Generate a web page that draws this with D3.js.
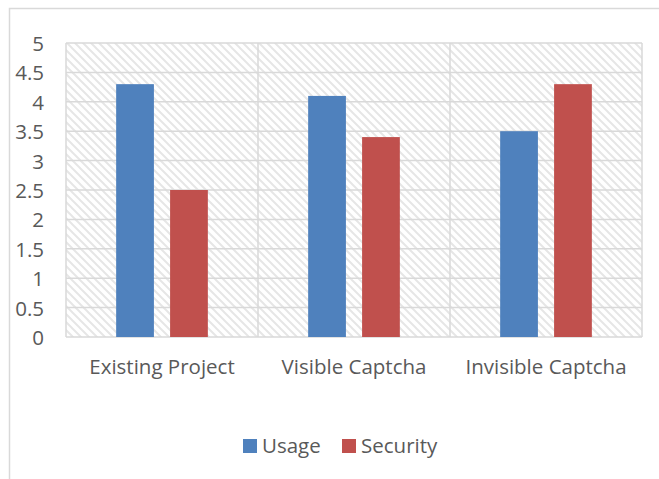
<!DOCTYPE html>
<html>
<head>
<meta charset="utf-8">
<script src="https://cdn.jsdelivr.net/npm/d3@7"></script>
<style>
  body { margin: 0; background: #fff; }
  text { font-family: "Open Sans", Lato, sans-serif; fill: #595959; }
</style>
</head>
<body>
<svg id="chart"></svg>
<script>
var categories = ["Existing Project", "Visible Captcha", "Invisible Captcha"];
var seriesNames = ["Usage", "Security"];
var usage = [4.3, 4.1, 3.5];
var security = [2.5, 3.4, 4.3];
var yTicks = [0, 0.5, 1, 1.5, 2, 2.5, 3, 3.5, 4, 4.5, 5];
var colors = ["#4F81BD", "#C0504D"];

function drawChart(id) {
  var svgWidth = 659, svgHeight = 479;
  var plot = { left: 66, right: 642, top: 43, bottom: 337 };
  var fontSize = 20.5;

  var svg = d3.select(id)
    .attr("width", svgWidth)
    .attr("height", svgHeight);

  // outer frame (right and bottom fall outside the picture)
  svg.append("path")
    .attr("d", `M9.5,${svgHeight} V8.5 H${svgWidth}`)
    .attr("fill", "none")
    .attr("stroke", "#D9D9D9")
    .attr("stroke-width", 1.5);

  // hatch pattern
  var defs = svg.append("defs");
  var pat = defs.append("pattern")
    .attr("id", "hatch")
    .attr("patternUnits", "userSpaceOnUse")
    .attr("width", 8)
    .attr("height", 8);
  pat.append("path")
    .attr("d", "M-2,6 L2,10 M0,0 L8,8 M6,-2 L10,2")
    .attr("stroke", "#E6E6E6")
    .attr("stroke-width", 2);

  var x = d3.scaleBand()
    .domain(categories)
    .range([plot.left, plot.right]);

  var xInner = d3.scaleBand()
    .domain(seriesNames)
    .range([0, x.bandwidth()])
    .paddingInner(0.3)
    .paddingOuter(0.93);

  var y = d3.scaleLinear()
    .domain([0, 5])
    .range([plot.bottom, plot.top]);

  svg.append("rect")
    .attr("x", plot.left)
    .attr("y", plot.top)
    .attr("width", plot.right - plot.left)
    .attr("height", plot.bottom - plot.top)
    .attr("fill", "url(#hatch)");

  // horizontal gridlines
  svg.append("g")
    .selectAll("line")
    .data(yTicks)
    .enter()
    .append("line")
    .attr("x1", plot.left)
    .attr("x2", plot.right)
    .attr("y1", d => y(d))
    .attr("y2", d => y(d))
    .attr("stroke", "#D9D9D9")
    .attr("stroke-width", 1.5);

  // vertical gridlines at category edges
  var edges = categories.map(c => x(c)).concat([plot.right]);
  svg.append("g")
    .selectAll("line")
    .data(edges)
    .enter()
    .append("line")
    .attr("x1", d => d)
    .attr("x2", d => d)
    .attr("y1", plot.top)
    .attr("y2", plot.bottom)
    .attr("stroke", "#D9D9D9")
    .attr("stroke-width", 1.5);

  // y axis labels
  var yAxis = d3.axisLeft(y)
    .tickValues(yTicks)
    .tickSize(0)
    .tickPadding(0)
    .tickFormat(d3.format("~g"));
  var gy = svg.append("g")
    .attr("transform", "translate(44,1)")
    .call(yAxis);
  gy.select(".domain").remove();
  gy.selectAll("text")
    .attr("font-size", fontSize)
    .attr("fill", "#595959")
    .style("font-family", "'Open Sans', sans-serif");

  // x axis labels
  var xAxis = d3.axisBottom(x).tickSize(0).tickPadding(0);
  var gx = svg.append("g")
    .attr("transform", "translate(0,359)")
    .call(xAxis);
  gx.select(".domain").remove();
  gx.selectAll("text")
    .attr("font-size", fontSize)
    .attr("fill", "#595959")
    .style("font-family", "'Open Sans', sans-serif");

  // bars
  var rows = categories.map((c, i) => ({ cat: c, vals: [usage[i], security[i]] }));
  var groups = svg.append("g")
    .selectAll("g")
    .data(rows)
    .enter()
    .append("g")
    .attr("transform", d => `translate(${x(d.cat)},0)`);

  groups.selectAll("rect")
    .data(d => d.vals.map((v, j) => ({ name: seriesNames[j], v: v, j: j })))
    .enter()
    .append("rect")
    .attr("x", d => xInner(d.name))
    .attr("width", xInner.bandwidth())
    .attr("y", d => y(d.v))
    .attr("height", d => y(0) - y(d.v))
    .attr("fill", d => colors[d.j]);

  // legend
  var legend = svg.append("g").attr("transform", "translate(243,439)");
  var items = [{ name: seriesNames[0], x: 0 }, { name: seriesNames[1], x: 99 }];
  items.forEach((it, i) => {
    legend.append("rect")
      .attr("x", it.x)
      .attr("y", 0)
      .attr("width", 14)
      .attr("height", 14)
      .attr("fill", colors[i]);
    legend.append("text")
      .attr("x", it.x + 19)
      .attr("y", 7)
      .attr("dy", "0.35em")
      .attr("font-size", fontSize)
      .text(it.name);
  });
}

window.addEventListener('load', function () {
  drawChart('#chart');
});
</script>
</body>
</html>
